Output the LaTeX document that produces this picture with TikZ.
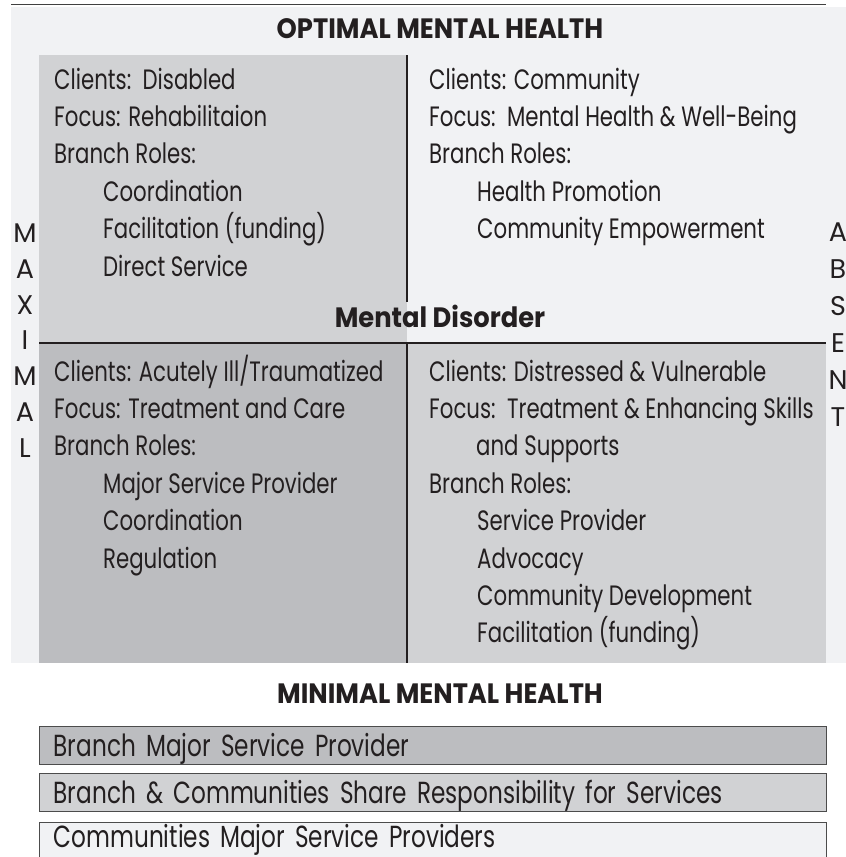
\documentclass[tikz,border=0pt]{standalone}
\usepackage{fontspec}
\usetikzlibrary{positioning}
\newfontfamily\bodyfont{Poppins}[FakeStretch=0.76]
\newfontfamily\headfont{Poppins}[FakeStretch=0.92]
\newfontfamily\sidefont{Poppins}
\definecolor{bglight}{HTML}{F1F2F4}
\definecolor{panelmid}{HTML}{D1D2D4}
\definecolor{paneldark}{HTML}{BCBDC0}
\definecolor{ink}{HTML}{231F20}

\begin{document}
\begin{tikzpicture}
    [
        x=1pt, y=1pt, node distance=37.4pt,
        body_text/.style={anchor=base west, inner sep=0pt, text=ink, font=\bodyfont\fontsize{28}{34}\selectfont},
        head_text/.style={anchor=base, inner sep=0pt, text=ink, font=\headfont\bfseries\fontsize{28}{34}\selectfont},
        side_text/.style={anchor=north, inner sep=0pt, align=center, text=ink},
        next_line/.style={below = of #1.base west, anchor=base west},
        bar_box/.style={anchor=north west, draw=black!70, line width=0.5mm, minimum height=38pt, text width=759pt, inner xsep=14pt, align=left, text height=21pt, text depth=0pt, text=ink, font=\bodyfont\fontsize{30.5}{34}\selectfont},
    ]
        \useasboundingbox (0,0) rectangle (846,-857);
        \fill[bglight] (11,-7) rectangle (846,-663);
        \draw[black!75, line width=0.6mm] (11,-4.5) -- (826,-4.5);
        \fill[panelmid] (39,-55) rectangle (407,-343);
        \fill[paneldark] (39,-343) rectangle (407,-663);
        \fill[panelmid] (407,-343) rectangle (826,-663);
        \draw[ink, line width=0.45mm] (407,-55) -- (407,-302);
        \draw[ink, line width=0.45mm] (39,-343) -- (826,-343);
        \draw[ink, line width=0.45mm] (407,-343) -- (407,-663);

        \node[head_text] (optimal) at (440,-38) {OPTIMAL MENTAL HEALTH};
        \node[head_text] (disorder) at (440,-327) {Mental Disorder};
        \node[head_text] (minimal) at (440,-703) {MINIMAL MENTAL HEALTH};

        % upper left
        \node[body_text] (ul1) at (54,-89) {Clients:\ \ Disabled};
        \node[body_text] (ul2) [next_line=ul1] {Focus: Rehabilitaion};
        \node[body_text] (ul3) [next_line=ul2] {Branch Roles:};
        \node[body_text] (ul4) [next_line=ul3, xshift=49pt] {Coordination};
        \node[body_text] (ul5) [next_line=ul4] {Facilitation (funding)};
        \node[body_text] (ul6) [next_line=ul5] {Direct Service};

        % upper right
        \node[body_text] (ur1) at (429,-89) {Clients: Community};
        \node[body_text] (ur2) [next_line=ur1] {Focus:\ \ Mental Health \& Well-Being};
        \node[body_text] (ur3) [next_line=ur2] {Branch Roles:};
        \node[body_text] (ur4) [next_line=ur3, xshift=48pt] {Health Promotion};
        \node[body_text] (ur5) [next_line=ur4] {Community Empowerment};

        % lower left
        \node[body_text] (ll1) at (54,-381) {Clients: Acutely Ill/Traumatized};
        \node[body_text] (ll2) [next_line=ll1] {Focus: Treatment and Care};
        \node[body_text] (ll3) [next_line=ll2] {Branch Roles:};
        \node[body_text] (ll4) [next_line=ll3, xshift=49pt] {Major Service Provider};
        \node[body_text] (ll5) [next_line=ll4] {Coordination};
        \node[body_text] (ll6) [next_line=ll5] {Regulation};

        % lower right
        \node[body_text] (lr1) at (429,-381) {Clients: Distressed \& Vulnerable};
        \node[body_text] (lr2) [next_line=lr1] {Focus:\ \ Treatment \& Enhancing Skills};
        \node[body_text] (lr3) [next_line=lr2, xshift=47pt] {and Supports};
        \node[body_text] (lr4) [next_line=lr3, xshift=-47pt] {Branch Roles:};
        \node[body_text] (lr5) [next_line=lr4, xshift=48pt] {Service Provider};
        \node[body_text] (lr6) [next_line=lr5] {Advocacy};
        \node[body_text] (lr7) [next_line=lr6] {Community Development};
        \node[body_text] (lr8) [next_line=lr7] {Facilitation (funding)};

        % side labels
        \node[side_text, font=\sidefont\fontsize{27}{35.7}\selectfont] (maximal) at (25,-224) {M\\A\\X\\I\\M\\A\\L};
        \node[side_text, font=\sidefont\fontsize{27}{37}\selectfont] (absent) at (838,-223) {A\\B\\S\\E\\N\\T};

        % responsibility bars
        \node[bar_box, fill=paneldark] (bar1) at (39,-726) {Branch Major Service Provider};
        \node[bar_box, fill=panelmid] (bar2) at (39,-773) {Branch \& Communities Share Responsibility for Services};
        \node[bar_box, fill=bglight, text depth=9pt] (bar3) at (39,-822) {Communities Major Service Providers};
    \end{tikzpicture}
\end{document}
